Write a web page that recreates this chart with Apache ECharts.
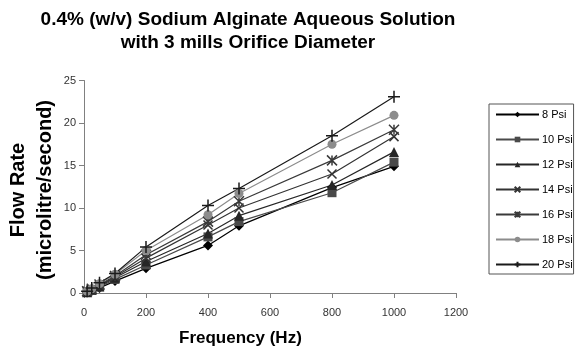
<!DOCTYPE html>
<html>
<head>
<meta charset="utf-8">
<script src="https://cdn.jsdelivr.net/npm/echarts@6/dist/echarts.min.js"></script>
<style>html,body{margin:0;padding:0;background:#fff;}#c{width:580px;height:356px;}</style>
</head>
<body>
<div id="c"></div>
<script>
var frequency = [10, 25, 50, 100, 200, 400, 500, 800, 1000];
var psi8  = [0.1, 0.3, 0.6, 1.4, 2.9, 5.6, 7.9, 12.4, 14.9];
var psi10 = [0.1, 0.3, 0.7, 1.6, 3.3, 6.6, 8.4, 11.8, 15.4];
var psi12 = [0.1, 0.4, 0.8, 1.8, 3.7, 7.0, 9.1, 12.7, 16.6];
var psi14 = [0.2, 0.4, 0.9, 1.9, 4.1, 8.0, 10.0, 14.0, 18.4];
var psi16 = [0.2, 0.5, 1.0, 2.0, 4.5, 8.4, 10.8, 15.6, 19.2];
var psi18 = [0.2, 0.5, 1.1, 2.2, 5.0, 9.2, 11.7, 17.5, 20.9];
var psi20 = [0.2, 0.6, 1.2, 2.3, 5.4, 10.3, 12.3, 18.5, 23.1];
var seriesNames = ['8 Psi', '10 Psi', '12 Psi', '14 Psi', '16 Psi', '18 Psi', '20 Psi'];
var seriesValues = [psi8, psi10, psi12, psi14, psi16, psi18, psi20];
var titleText = '0.4% (w/v) Sodium Alginate Aqueous Solution\nwith 3 mills Orifice Diameter';
var xName = 'Frequency (Hz)';
var yName = 'Flow Rate\n(microlitre/second)';

var colors = ['#000000', '#4a4a4a', '#262626', '#333333', '#3a3a3a', '#8c8c8c', '#1a1a1a'];
var symbols = [
  'diamond', 'rect', 'triangle',
  'path://M0,0L10,10M10,0L0,10',
  'path://M0,0L10,10M10,0L0,10M5,0L5,10',
  'circle',
  'path://M5,0L5,10M0,5L10,5'
];
var sizes = [10, 9, 10, 9, 10, 9, 12];
var FONT = 'Liberation Sans, Arial, sans-serif';

function pairs(vals) { return frequency.map(function (f, i) { return [f, vals[i]]; }); }

var series = seriesNames.map(function (n, i) {
  var strokeOnly = (i === 3 || i === 4 || i === 6);
  return {
    name: n, type: 'line', data: pairs(seriesValues[i]),
    symbol: symbols[i], symbolSize: sizes[i], showAllSymbol: true,
    lineStyle: { color: colors[i], width: 1.2 },
    itemStyle: { color: colors[i], borderColor: colors[i], borderWidth: strokeOnly ? 1.5 : 0 },
    emphasis: { disabled: true },
    animation: false
  };
});

var chart = echarts.init(document.getElementById('c'), null, { renderer: 'canvas' });
chart.setOption({
  backgroundColor: '#ffffff',
  animation: false,
  textStyle: { fontFamily: FONT },
  title: {
    text: titleText, left: 243, top: 3, textAlign: 'center',
    textStyle: { fontFamily: FONT, fontWeight: 'bold', fontSize: 19, lineHeight: 23, color: '#000' }
  },
  legend: {
    orient: 'vertical', left: 489, top: 104,
    data: seriesNames,
    itemWidth: 43, itemHeight: 7, itemGap: 14,
    padding: [5, 1, 4, 6],
    borderColor: '#555', borderWidth: 1,
    textStyle: { fontFamily: FONT, fontSize: 11, color: '#000', padding: [0, 0, 0, -2] },
    selectedMode: false
  },
  grid: { left: 84, right: 124, top: 80.5, bottom: 63, outerBoundsMode: 'none', containLabel: false },
  xAxis: {
    type: 'value', min: 0, max: 1200, interval: 200,
    axisLine: { lineStyle: { color: '#808080', width: 1 } },
    axisTick: { show: true, length: 5, lineStyle: { color: '#808080' } },
    axisLabel: { color: '#333', fontSize: 11, margin: 14, fontFamily: FONT, formatter: function (v) { return String(v); } },
    splitLine: { show: false }
  },
  yAxis: {
    type: 'value', min: 0, max: 25, interval: 5,
    axisLine: { show: true, lineStyle: { color: '#808080', width: 1 } },
    axisTick: { show: true, length: 5, lineStyle: { color: '#808080' } },
    axisLabel: { color: '#333', fontSize: 11, margin: 8, fontFamily: FONT },
    splitLine: { show: false }
  },
  graphic: [{
    type: 'text', left: 179, top: 330,
    style: { text: xName, font: 'bold 17px ' + FONT, fill: '#000' }
  }, {
    type: 'text', x: 31.5, y: 190, rotation: Math.PI / 2,
    style: { text: yName, font: 'bold 20px ' + FONT, lineHeight: 27, fill: '#000', align: 'center', verticalAlign: 'middle' }
  }],
  series: series
});
</script>
</body>
</html>
